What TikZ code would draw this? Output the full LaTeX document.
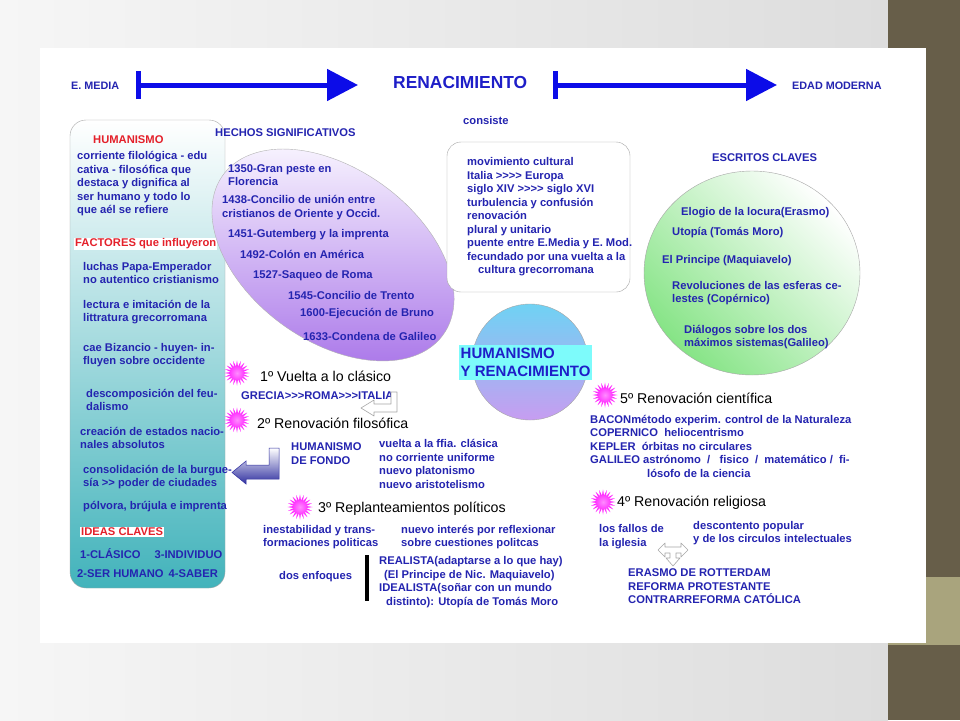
\documentclass[tikz,border=0pt]{standalone}
\usepackage{fontspec}
\setmainfont{Liberation Sans}
\usetikzlibrary{arrows.meta, shapes.geometric}
\definecolor{txtblue}{HTML}{2424B0}
\definecolor{titleblue}{HTML}{1E1EC8}
\definecolor{arrowblue}{HTML}{0C0CE8}
\definecolor{hotred}{HTML}{E4202A}
\definecolor{bgleft}{HTML}{F6F6F6}
\definecolor{bgright}{HTML}{DDDDDD}
\definecolor{stripbrown}{HTML}{675E49}
\definecolor{stripkhaki}{HTML}{A9A47D}
\definecolor{colmid}{HTML}{B4E2E5}
\definecolor{colbot}{HTML}{42B3BB}
\definecolor{elltop}{HTML}{F6F1FE}
\definecolor{ellmid}{HTML}{D9C3F6}
\definecolor{ellbot}{HTML}{AD7BEA}
\definecolor{ringgreen}{HTML}{86E486}
\definecolor{humtop}{HTML}{6FD2F3}
\definecolor{humbot}{HTML}{C79DF1}
\definecolor{labelcyan}{HTML}{7DFBFB}
\definecolor{navyarrow}{HTML}{3030A0}

\begin{document}
\begin{tikzpicture}[x=1pt, y=-1pt,
  txt/.style={text=txtblue, font=\fontsize{11.2}{13.5}\selectfont\bfseries, align=left, inner sep=0pt, anchor=west},
  redtxt/.style={txt, text=hotred, fill=white, inner xsep=1pt, inner ysep=1pt},
  toptxt/.style={txt, font=\fontsize{10.8}{13}\selectfont\bfseries},
  headtxt/.style={text=black, font=\fontsize{14.2}{16}\selectfont, inner sep=0pt, anchor=west},
  burst/.style={star, star points=20, star point ratio=1.9, minimum size=25pt, inner sep=0pt, shade, inner color=magenta!45, outer color=magenta},
  timeline/.style={draw=arrowblue, line width=5pt, {Bar[width=28pt]}-{Triangle[length=31pt,width=31pt]}},
  hollow/.style={draw=gray!70, fill=white, line width=0.6pt, line join=round}]

  \shade[left color=bgleft, right color=bgright] (0,0) rectangle (888,720);
  \fill[stripbrown] (888,0) rectangle (960,720);
  \fill[stripkhaki] (888,577) rectangle (960,645);
  \fill[white] (40,48) rectangle (926,643);

  \coordinate (axis) at (0,85);
  \node[toptxt] (emedia) at (71,86) {E. MEDIA};
  \node[txt, text=titleblue, font=\fontsize{17.4}{20}\selectfont\bfseries] (renac) at (393,83) {RENACIMIENTO};
  \node[toptxt] (edad) at (792,86) {EDAD MODERNA};
  \draw[timeline] ([xshift=17pt]emedia.east |- axis) -- ([xshift=-35pt]renac.west |- axis);
  \draw[timeline] ([xshift=26pt]renac.east |- axis) -- ([xshift=-15pt]edad.west |- axis);
  \node[txt] (consiste) at (463,120) {consiste};

  \draw[gray!70, top color=white, middle color=colmid, bottom color=colbot, rounded corners=16pt] (70,120) rectangle (225,588);
  \node[txt, text=hotred] (humtit) at (93,140) {HUMANISMO};
  \node[txt] (humdef) at (77,183.8) {corriente filológica - edu\\cativa - filosófica que\\destaca y dignifica al\\ser humano y todo lo\\que aél se refiere};
  \node[redtxt] (factores) at (74,244) {FACTORES que influyeron};
  \node[txt] (f1) at (83,273) {luchas Papa-Emperador\\no autentico cristianismo};
  \node[txt] (f2) at (83,312) {lectura e imitación de la\\littratura grecorromana};
  \node[txt] (f3) at (83,355) {cae Bizancio - huyen- in-\\fluyen sobre occidente};
  \node[txt] (f4) at (86,400) {descomposición del feu-\\dalismo};
  \node[txt] (f5) at (80,438) {creación de estados nacio-\\nales absolutos};
  \node[txt] (f6) at (83,477) {consolidación de la burgue-\\sía >{}> poder de ciudades};
  \node[txt] (f7) at (83,507) {pólvora, brújula e imprenta};
  \node[redtxt] (ideas) at (80,532) {IDEAS CLAVES};
  \node[txt] (ideas1) at (80,554) {1-CLÁSICO\hspace{14pt}3-INDIVIDUO};
  \node[txt] (ideas2) at (77,574) {2-SER HUMANO\hspace{5pt}4-SABER};

  \node[txt] (hechos) at (215,133) {HECHOS SIGNIFICATIVOS};
  \draw[gray!60, top color=elltop, middle color=ellmid, bottom color=ellbot]
    plot[domain=0:360, samples=120, variable=\t]
    ({333+136*cos(\t)*cos(36)-86*sin(\t)*sin(36)}, {255+136*cos(\t)*sin(36)+86*sin(\t)*cos(36)}) -- cycle;
  \node[txt] (e1) at (228,175) {1350-Gran peste en\\Florencia};
  \node[txt] (e2) at (222,207.5) {1438-Concilio de unión entre\\cristianos de Oriente y Occid.};
  \node[txt] (e3) at (228,235) {1451-Gutemberg y la imprenta};
  \node[txt] (e4) at (240,254) {1492-Colón en América};
  \node[txt] (e5) at (253,276) {1527-Saqueo de Roma};
  \node[txt] (e6) at (288,295) {1545-Concilio de Trento};
  \node[txt] (e7) at (300,314) {1600-Ejecución de Bruno};
  \node[txt] (e8) at (303,336) {1633-Condena de Galileo};

  \draw[gray!70, fill=white, rounded corners=14pt] (447,142) rectangle (630,292);
  \node[txt] (cons) at (467,217) {movimiento cultural\\Italia >{}>{}>{}> Europa\\siglo XIV >{}>{}>{}> siglo XVI\\turbulencia y confusión\\renovación\\plural y unitario\\puente entre E.Media y E. Mod.\\fecundado por una vuelta a la\\\hspace*{11pt}cultura grecorromana};

  \node[txt] (escritos) at (712,158) {ESCRITOS CLAVES};
  \draw[gray!70, top color=white, middle color=ringgreen!35, bottom color=ringgreen, shading angle=-45] (752,273) ellipse [x radius=108, y radius=102];
  \node[txt] (c1) at (681,213) {Elogio de la locura(Erasmo)};
  \node[txt] (c2) at (672,233) {Utopía (Tomás Moro)};
  \node[txt] (c3) at (662,261) {El Principe (Maquiavelo)};
  \node[txt] (c4) at (672,293) {Revoluciones de las esferas ce-\\lestes (Copérnico)};
  \node[txt] (c5) at (684,337) {Diálogos sobre los dos\\máximos sistemas(Galileo)};

  \draw[gray!70, top color=humtop, bottom color=humbot] (530,362) circle [radius=58];
  \node[txt, text=titleblue, fill=labelcyan, inner xsep=1.5pt, inner ysep=3pt, font=\fontsize{15}{18.5}\selectfont\bfseries] (humren) at (459,362.5) {HUMANISMO\\Y RENACIMIENTO};

  \node[burst] (s1) at (237,373) {};
  \node[headtxt] (h1) at (260,376) {1º Vuelta a lo clásico};
  \node[txt] (grecia) at (241,396) {GRECIA>{}>{}>ROMA>{}>{}>ITALIA};
  \coordinate (ut) at (391,392);
  \draw[hollow] (ut) -- ++(6,0) -- ++(0,20) -- ++(-23,0) -- ++(0,4) -- ++(-13,-8) -- ++(13,-8) -- ++(0,4) -- ++(17,0) -- cycle;

  \node[burst] (s2) at (237,420) {};
  \node[headtxt] (h2) at (257,423) {2º Renovación filosófica};
  \node[txt] (hfondo) at (291,453.5) {HUMANISMO\\DE FONDO};
  \node[txt] (vuelta) at (379,464) {vuelta a la ffia. clásica\\no corriente uniforme\\nuevo platonismo\\nuevo aristotelismo};
  \coordinate (ba) at (269,448);
  \draw[draw=navyarrow, line width=0.5pt, top color=white, bottom color=navyarrow] (ba) -- ++(10,0) -- ++(0,31) -- ++(-33,0) -- ++(0,5) -- ++(-14,-11.5) -- ++(14,-11.5) -- ++(0,4) -- ++(23,0) -- cycle;

  \node[burst] (s3) at (300,507) {};
  \node[headtxt] (h3) at (318,509) {3º Replanteamientos políticos};
  \node[txt] (inest) at (263,537) {inestabilidad y trans-\\formaciones politicas};
  \node[txt] (nuevo) at (401,537) {nuevo interés por reflexionar\\sobre cuestiones politcas};
  \node[txt] (enfoq) at (279,577) {dos enfoques};
  \coordinate (bartop) at (367,555);
  \coordinate (barbot) at (367,601);
  \draw[line width=3.5pt] (bartop) -- (barbot);
  \node[txt] (realista) at (379,582) {REALISTA(adaptarse a lo que hay)\\\hspace*{5pt}(El Principe de Nic. Maquiavelo)\\IDEALISTA(soñar con un mundo\\\hspace*{7pt}distinto): Utopía de Tomás Moro};

  \node[burst] (s5) at (605,395) {};
  \node[headtxt] (h5) at (620,398) {5º Renovación científica};
  \node[txt] (bacon) at (590,446) {BACONmétodo experim. control de la Naturaleza\\COPERNICO\ \ heliocentrismo\\KEPLER\ \ órbitas no circulares\\GALILEO astrónomo\ \ /\ \ \ fisico\ \ /\ \ matemático /\ \ fi-\\\hspace*{57pt}lósofo de la ciencia};

  \node[burst] (s4) at (603,502) {};
  \node[headtxt] (h4) at (617,503) {4º Renovación religiosa};
  \node[txt] (fallos) at (599,536.5) {los fallos de\\la iglesia};
  \node[txt] (descont) at (693,533) {descontento popular\\y de los circulos intelectuales};
  \coordinate (tj) at (658,550);
  \draw[hollow] (tj) -- ++(7,-7) -- ++(0,4) -- ++(16,0) -- ++(0,-4) -- ++(7,7) -- ++(-7,7) -- ++(0,-4) -- ++(-5,0) -- ++(0,5) -- ++(4,0) -- ++(-7,8) -- ++(-7,-8) -- ++(4,0) -- ++(0,-5) -- ++(-5,0) -- ++(0,4) -- cycle;
  \node[txt] (erasmo) at (628,586.5) {ERASMO DE ROTTERDAM\\REFORMA PROTESTANTE\\CONTRARREFORMA CATÓLICA};
\end{tikzpicture}
\end{document}
